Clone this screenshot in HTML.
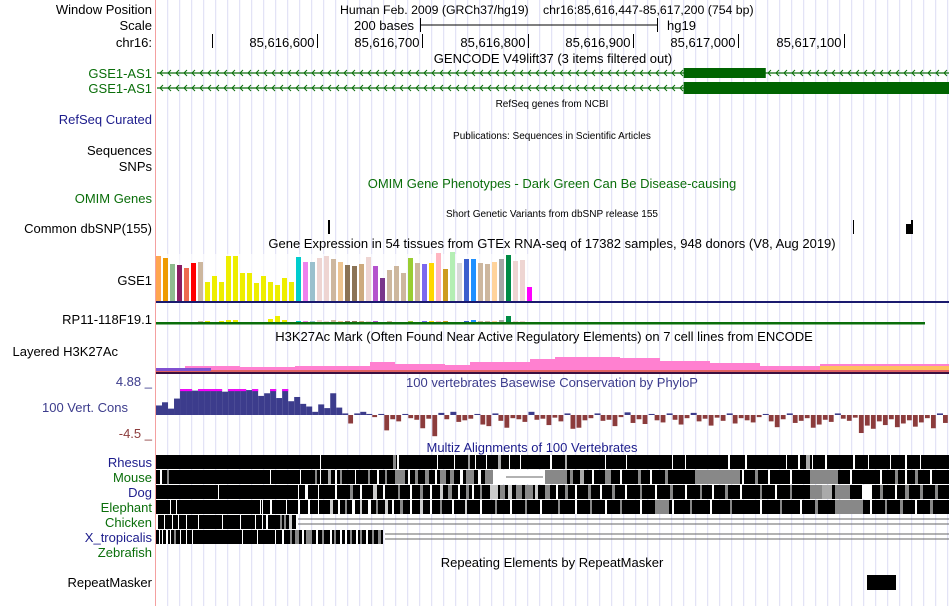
<!DOCTYPE html>
<html><head><meta charset="utf-8">
<style>
body{margin:0;background:#fff;width:950px;height:606px;overflow:hidden;font-family:"Liberation Sans",sans-serif;}
svg{display:block}
text{font-family:"Liberation Sans",sans-serif;}
</style></head>
<body>
<svg id="c" width="950" height="606" viewBox="0 0 950 606">
<g id="grid"></g>
<line x1="155.5" y1="0" x2="155.5" y2="606" stroke="#f4a0a0" stroke-width="1"/>
<g font-size="13" text-anchor="end">
<text x="152" y="14">Window Position</text>
<text x="152" y="30">Scale</text>
<text x="152" y="47">chr16:</text>
<text x="152" y="78" fill="#0a6e0a">GSE1-AS1</text>
<text x="152" y="93" fill="#0a6e0a">GSE1-AS1</text>
<text x="152" y="124" fill="#1c1c8c">RefSeq Curated</text>
<text x="152" y="155">Sequences</text>
<text x="152" y="171">SNPs</text>
<text x="152" y="203" fill="#0a6e0a">OMIM Genes</text>
<text x="152" y="233">Common dbSNP(155)</text>
<text x="152" y="285">GSE1</text>
<text x="152" y="324">RP11-118F19.1</text>
<text x="118" y="356">Layered H3K27Ac</text>
<text x="152" y="386" fill="#3c3c8c">4.88 _</text>
<text x="128" y="412" fill="#3c3c8c">100 Vert. Cons</text>
<text x="152" y="438" fill="#8c3c3c">-4.5 _</text>
<text x="152" y="467" fill="#1c1c8c">Rhesus</text>
<text x="152" y="482" fill="#0a6e0a">Mouse</text>
<text x="152" y="497" fill="#1c1c8c">Dog</text>
<text x="152" y="512" fill="#0a6e0a">Elephant</text>
<text x="152" y="527" fill="#0a6e0a">Chicken</text>
<text x="152" y="542" fill="#1c1c8c">X_tropicalis</text>
<text x="152" y="557" fill="#0a6e0a">Zebrafish</text>
<text x="152" y="587">RepeatMasker</text>
</g>
<g font-size="13">
<text x="340" y="14" font-size="12.3">Human Feb. 2009 (GRCh37/hg19)</text>
<text x="543" y="14" font-size="12.3">chr16:85,616,447-85,617,200 (754 bp)</text>
<text x="414" y="30" text-anchor="end">200 bases</text>
<line x1="420" y1="25" x2="657" y2="25" stroke="#000"/>
<line x1="420.5" y1="18" x2="420.5" y2="32" stroke="#000"/><line x1="657.5" y1="18" x2="657.5" y2="32" stroke="#000"/>
<text x="667" y="30">hg19</text>
<g id="ruler"></g>
<text x="553" y="63" text-anchor="middle">GENCODE V49lift37 (3 items filtered out)</text>
<text x="552" y="567" text-anchor="middle">Repeating Elements by RepeatMasker</text>
<text x="552" y="248" text-anchor="middle">Gene Expression in 54 tissues from GTEx RNA-seq of 17382 samples, 948 donors (V8, Aug 2019)</text>
<text x="544" y="341" text-anchor="middle">H3K27Ac Mark (Often Found Near Active Regulatory Elements) on 7 cell lines from ENCODE</text>
<text x="552" y="188" text-anchor="middle" fill="#0a6e0a">OMIM Gene Phenotypes - Dark Green Can Be Disease-causing</text>
<text x="552" y="387" text-anchor="middle" fill="#3c3c8c">100 vertebrates Basewise Conservation by PhyloP</text>
<text x="532" y="452" text-anchor="middle" fill="#1c1c8c">Multiz Alignments of 100 Vertebrates</text>
</g>
<g font-size="10" text-anchor="middle">
<text x="552" y="107">RefSeq genes from NCBI</text>
<text x="552" y="139">Publications: Sequences in Scientific Articles</text>
<text x="552" y="217">Short Genetic Variants from dbSNP release 155</text>
</g>
<g id="genes"></g>
<g>
<rect x="328" y="220" width="2" height="14" fill="#000"/>
<rect x="853" y="220" width="1" height="14" fill="#000"/>
<rect x="906" y="224" width="6" height="10" fill="#000"/>
<rect x="911" y="220" width="2" height="14" fill="#000"/>
</g>
<g id="gtex"></g>
<g id="h3k"></g>
<g id="cons"></g>
<g id="multiz"></g>
<rect x="867" y="575" width="29" height="15" fill="#000"/>
</svg>
<script>
const NS='http://www.w3.org/2000/svg';
function mk(p,tag,at){const e=document.createElementNS(NS,tag);for(const k in at)e.setAttribute(k,at[k]);p.appendChild(e);return e;}
// grid
const grid=document.getElementById('grid');
for(let x=167.7;x<950;x+=12){mk(grid,'line',{x1:x,y1:0,x2:x,y2:606,stroke:'#dcdcf4','stroke-width':1});}
// ruler
const rulerTicks=['','85,616,600','85,616,700','85,616,800','85,616,900','85,617,000','85,617,100'];
const rulerPos=[85616500,85616600,85616700,85616800,85616900,85617000,85617100];
const bp0=85616447,bp1=85617200,xs0=156,xs1=949;
function bx(b){return xs0+(b-bp0)/(bp1-bp0)*(xs1-xs0);}
const ruler=document.getElementById('ruler');
rulerPos.forEach((b,i)=>{const x=Math.round(bx(b))+0.5;
 mk(ruler,'line',{x1:x,y1:34,x2:x,y2:48,stroke:'#000'});
 if(rulerTicks[i]){const t=mk(ruler,'text',{x:x-3,y:47,'text-anchor':'end'});t.textContent=rulerTicks[i];}
});
// genes
const genes=document.getElementById('genes');
const geneRows=[{y:73,thickStart:85616948,thickEnd:85617026,h:10},{y:88,thickStart:85616948,thickEnd:85617200,h:12}];
geneRows.forEach(g=>{
 mk(genes,'line',{x1:157,y1:g.y,x2:949,y2:g.y,stroke:'#0a6e0a','stroke-width':1.3});
 for(let x=160;x<948;x+=8){mk(genes,'path',{d:`M${x+3},${g.y-3}L${x},${g.y}L${x+3},${g.y+3}`,stroke:'#0a6e0a',fill:'none','stroke-width':1});}
 const x1=bx(g.thickStart),x2=bx(g.thickEnd);
 mk(genes,'rect',{x:x1,y:g.y-g.h/2,width:x2-x1,height:g.h,fill:'#006400'});
});
// GTEx
const gtexVals=[45,43,37,36,33,38,39,19,25,19,45,45,28,28,18,25,19,16,23,19,44,39,39,43,45,42,39,36,35,37,44,35,23,31,35,28,43,38,37,38,48,32,49,38,42,42,38,37,39,42,46,40,41,14];
const gtexColors=['#FFA54F','#EE9A00','#8FBC8F','#8B1C62','#EE6A50','#FF0000','#CDB79E','#EEEE00','#EEEE00','#EEEE00','#EEEE00','#EEEE00','#EEEE00','#EEEE00','#EEEE00','#EEEE00','#EEEE00','#EEEE00','#EEEE00','#EEEE00','#00CDCD','#EE82EE','#9AC0CD','#EED5D2','#EED5D2','#CDB79E','#EEC591','#8B7355','#8B7355','#CDAA7D','#EED5D2','#B452CD','#7A378B','#CDB79E','#CDB79E','#CDB79E','#9ACD32','#CDB79E','#7B68EE','#FFD700','#FFB6C1','#CD9B1D','#B4EEB4','#D9D9D9','#3A5FCD','#1E90FF','#CDB79E','#CDB79E','#FFD39B','#A6A6A6','#008B45','#EED5D2','#EED5D2','#FF00FF'];
const rpVals=[0,0,0,0,0,0,1,1,0,1,2,2,0,0,0,0,3,6,2,0,1,1,1,2,1,2,1,1,1,1,1,1,0,1,0,0,1,0,1,1,1,1,0,0,1,2,1,1,1,2,6,1,1,0];
const gtex=document.getElementById('gtex');
mk(gtex,'rect',{x:156,y:254,width:377,height:48,fill:'#fff',opacity:0.6});
function gy(v,base){return base-v;}
gtexVals.forEach((v,i)=>{const r=mk(gtex,'rect',{x:156+i*7,y:gy(v,301),width:5,height:v,fill:gtexColors[i]});

});
mk(gtex,'rect',{x:156,y:301,width:793,height:2,fill:'#1a1a6e'});
rpVals.forEach((v,i)=>{if(!v)return;const r=mk(gtex,'rect',{x:156+i*7,y:gy(v,322),width:5,height:v,fill:gtexColors[i]});

});
mk(gtex,'rect',{x:156,y:322,width:769,height:2.5,fill:'#0a6e0a'});
// H3K27Ac layers
const h3k=document.getElementById('h3k');
mk(h3k,'path',{d:'M156,368 L185,368 L185,366 L240,366 L240,367 L295,367 L295,366 L370,366 L370,362 L395,362 L395,364 L445,364 L445,365 L470,365 L470,362 L530,362 L530,359 L555,359 L555,357 L620,357 L620,358 L660,358 L660,361 L710,361 L710,363 L760,363 L760,366 L820,366 L820,364 L949,364 L949,373 L156,373 Z',fill:'#ff80d0'});
mk(h3k,'path',{d:'M820,366 L949,366 L949,370 L820,370 Z',fill:'#ffc060'});
mk(h3k,'rect',{x:156,y:370,width:793,height:2,fill:'#e06060'});
mk(h3k,'rect',{x:156,y:372,width:793,height:2,fill:'#3c1040'});
mk(h3k,'rect',{x:156,y:368,width:55,height:3,fill:'#8050d0'});
// conservation
const consVals=[1.8,2.4,1.2,3.1,4.9,4.9,4.6,4.9,4.9,4.9,4.9,4.4,4.9,4.9,4.9,4.7,4.9,3.6,4.1,4.9,3.2,4.9,2.6,3.4,2.1,1.6,0.6,2.0,1.3,4.1,1.4,0.3,-1.6,0.3,0.6,0.2,-0.4,0.2,-2.9,-0.8,-1.2,0.2,-0.6,-0.9,-2.5,-0.7,-4.0,0.4,-0.8,0.6,-1.3,-1.0,-0.7,0.2,-1.8,-2.1,0.3,-1.1,-2.4,-0.6,-0.8,-1.3,0.6,-0.9,-0.7,-1.9,-0.5,-1.2,0.3,-2.6,-2.4,-1.0,-0.6,0.3,-1.1,-0.9,-2.1,-0.4,0.5,-1.5,-0.8,-1.7,0.2,-1.0,-1.4,0.3,-0.9,-1.8,-0.6,0.4,-1.2,-0.7,-2.0,-0.5,-1.1,0.3,-1.6,-0.6,-1.0,-1.4,-0.4,0.2,-1.2,-2.3,-0.8,0.3,-1.5,-1.1,-0.6,-2.4,-1.8,-0.9,-1.3,0.3,-0.7,-1.1,-0.5,-3.4,-2.0,-2.6,-1.2,-1.9,-0.8,-2.3,-1.6,-1.0,-2.2,-1.4,-0.6,-2.5,0.3,-1.5];
const consMax=4.88,consMin=-4.5,zeroY=415,pxPer=5.3;
function cy(v){return zeroY-Math.max(consMin,Math.min(consMax,v))*pxPer;}
const cons=document.getElementById('cons');
const cw=793/consVals.length;
consVals.forEach((v,i)=>{const x=156+i*cw;const y=cy(v);
 const r=mk(cons,'rect',{x:x,y:Math.min(y,zeroY),width:v>=0?cw:cw-1.2,height:Math.max(1,Math.abs(zeroY-y)),fill:v>=0?'#3c3c8c':'#8c3c3c'});
 
 
 if(v>=consMax){mk(cons,'rect',{x:x,y:y,width:cw,height:2,fill:'#ff00ff'});}
});
// multiz
const multiz=document.getElementById('multiz');
const rows=[{y:455,end:949},{y:470,end:949},{y:485,end:949},{y:500,end:949},{y:515,end:296},{y:530,end:383}];
const stripes=[
 [[320,1,'#fff'],[393,3,'#888'],[397,2,'#fff'],[437,1,'#fff'],[454,1,'#fff'],[468,2,'#999'],[475,1,'#fff'],[486,1,'#fff'],[498,3,'#aaa'],[509,1,'#fff'],[520,1,'#fff'],[550,2,'#fff'],[565,2,'#aaa'],[605,1,'#fff'],[626,1,'#fff'],[672,1,'#fff'],[685,1,'#fff'],[728,2,'#fff'],[745,2,'#fff'],[786,1,'#fff'],[798,2,'#fff'],[806,4,'#aaa'],[812,1,'#fff'],[825,2,'#fff'],[853,2,'#fff'],[868,1,'#fff'],[890,1,'#fff'],[905,2,'#fff'],[920,1,'#fff']],
 [[160,2,'#fff'],[167,2,'#888'],[270,1,'#fff'],[300,1,'#fff'],[315,2,'#888'],[320,1,'#fff'],[328,3,'#aaa'],[335,2,'#fff'],[340,2,'#888'],[355,1,'#fff'],[368,2,'#888'],[377,2,'#fff'],[385,2,'#888'],[395,10,'#888'],[408,2,'#fff'],[415,3,'#888'],[425,4,'#888'],[435,2,'#fff'],[440,6,'#888'],[450,4,'#888'],[460,3,'#fff'],[466,8,'#888'],[478,3,'#fff'],[485,8,'#888'],[493,12,'#fff'],[505,40,'#fff'],[545,22,'#888'],[570,3,'#888'],[580,4,'#aaa'],[592,2,'#fff'],[605,6,'#888'],[620,2,'#fff'],[638,3,'#888'],[650,2,'#fff'],[665,3,'#888'],[695,45,'#888'],[742,2,'#fff'],[755,3,'#888'],[768,2,'#fff'],[790,2,'#fff'],[810,28,'#888'],[850,2,'#fff'],[880,2,'#fff'],[895,3,'#888'],[905,2,'#fff'],[915,3,'#888'],[930,2,'#fff']],
 [[218,1,'#fff'],[298,1,'#fff'],[305,3,'#fff'],[318,1,'#fff'],[335,2,'#fff'],[350,3,'#888'],[360,2,'#fff'],[373,4,'#ccc'],[383,2,'#fff'],[398,2,'#888'],[410,2,'#fff'],[420,3,'#888'],[430,2,'#fff'],[440,3,'#ccc'],[448,4,'#888'],[458,2,'#fff'],[466,3,'#888'],[472,2,'#fff'],[480,2,'#888'],[490,8,'#ccc'],[500,5,'#888'],[508,4,'#ccc'],[516,6,'#888'],[525,8,'#888'],[535,3,'#ccc'],[545,5,'#888'],[556,2,'#fff'],[565,3,'#888'],[575,2,'#fff'],[588,3,'#888'],[600,2,'#fff'],[612,3,'#888'],[625,2,'#fff'],[640,2,'#888'],[655,2,'#fff'],[670,3,'#888'],[685,2,'#fff'],[700,2,'#888'],[712,2,'#fff'],[725,3,'#888'],[740,2,'#fff'],[760,2,'#888'],[775,2,'#fff'],[790,2,'#888'],[810,12,'#888'],[822,10,'#aaa'],[835,15,'#888'],[862,10,'#fff'],[880,3,'#888'],[895,2,'#fff'],[905,4,'#888'],[920,3,'#888'],[935,3,'#888']],
 [[170,1,'#fff'],[176,1,'#fff'],[260,1,'#fff'],[262,1,'#fff'],[270,2,'#fff'],[286,1,'#fff'],[298,2,'#fff'],[308,2,'#fff'],[318,1,'#fff'],[330,3,'#ccc'],[338,2,'#fff'],[345,2,'#888'],[352,3,'#fff'],[360,2,'#ccc'],[368,3,'#fff'],[376,2,'#888'],[385,3,'#ccc'],[392,2,'#fff'],[400,3,'#888'],[410,2,'#fff'],[420,3,'#ccc'],[430,2,'#fff'],[440,2,'#888'],[452,2,'#fff'],[465,2,'#ccc'],[480,2,'#fff'],[495,2,'#888'],[510,2,'#fff'],[525,2,'#888'],[540,2,'#fff'],[558,2,'#888'],[575,2,'#fff'],[590,2,'#888'],[605,2,'#fff'],[620,2,'#888'],[640,2,'#fff'],[655,14,'#888'],[672,2,'#fff'],[690,2,'#888'],[710,2,'#fff'],[730,2,'#888'],[760,2,'#fff'],[780,2,'#888'],[800,2,'#fff'],[815,3,'#888'],[835,28,'#888'],[870,2,'#fff'],[885,2,'#888'],[900,3,'#888'],[915,2,'#fff'],[930,3,'#888']],
 [[156,2,'#fff'],[164,1,'#fff'],[172,1,'#fff'],[178,1,'#fff'],[186,1,'#fff'],[198,1,'#fff'],[222,1,'#fff'],[240,1,'#fff'],[255,1,'#fff'],[262,1,'#fff'],[266,2,'#fff'],[280,2,'#888'],[284,2,'#888'],[289,3,'#ccc']],
 [[159,1,'#fff'],[162,1,'#fff'],[166,2,'#fff'],[170,1,'#fff'],[174,2,'#888'],[180,1,'#fff'],[186,1,'#fff'],[192,1,'#fff'],[242,1,'#fff'],[257,1,'#fff'],[275,1,'#fff'],[282,2,'#fff'],[290,2,'#888'],[295,4,'#888'],[302,2,'#fff'],[306,6,'#888'],[316,2,'#fff'],[322,2,'#888'],[330,2,'#fff'],[334,2,'#888'],[340,2,'#fff'],[345,2,'#fff'],[350,2,'#888'],[356,2,'#fff'],[360,2,'#888'],[366,2,'#fff'],[372,2,'#888'],[378,3,'#888']]
];
rows.forEach((r,i)=>{
 const rr=mk(multiz,'rect',{x:156,y:r.y,width:r.end-156,height:14,fill:'#000'});
 
 
 stripes[i].forEach(s=>{mk(multiz,'rect',{x:s[0],y:r.y,width:s[1],height:14,fill:s[2]});});
 if(i===1){mk(multiz,'line',{x1:506,y1:r.y+7,x2:543,y2:r.y+7,stroke:'#666'});}
 if(r.end<949){mk(multiz,'line',{x1:r.end+2,y1:r.y+4,x2:949,y2:r.y+4,stroke:'#666'});mk(multiz,'line',{x1:r.end+2,y1:r.y+9,x2:949,y2:r.y+9,stroke:'#666'});}
});
</script>
</body></html>
